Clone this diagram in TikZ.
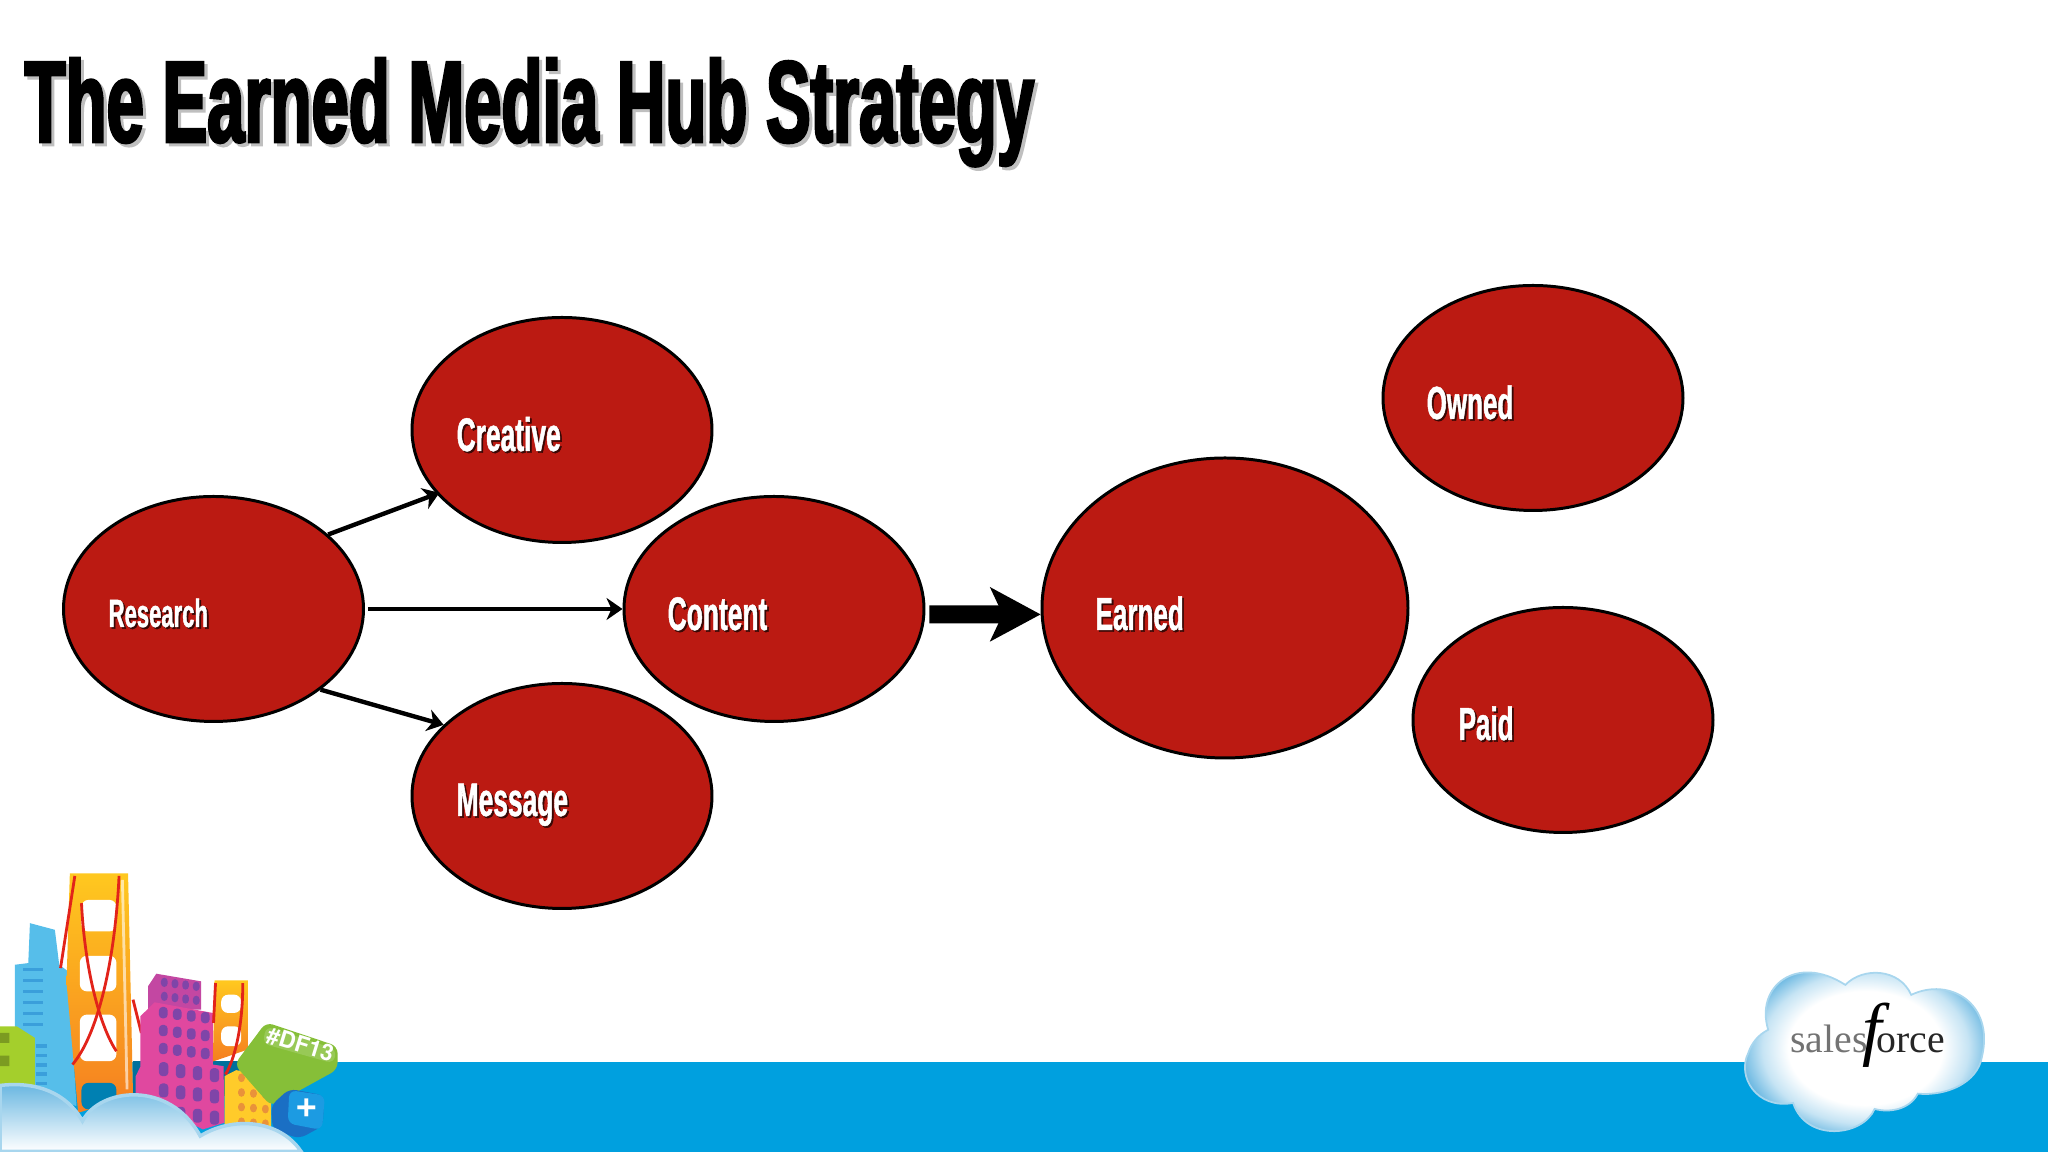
\documentclass[tikz,border=0pt]{standalone}
\usepackage{fontspec}
\usetikzlibrary{shapes.geometric,arrows.meta}
\setmainfont{Liberation Serif}
\newfontfamily\hubfont[UprightFont=* Bold,FakeStretch=0.578,FakeBold=2.2]{Liberation Sans}
\newfontfamily\labelfont[UprightFont=* Bold,FakeStretch=0.56,FakeBold=1]{Liberation Sans}
\newfontfamily\tagfont{TeX Gyre Heros}
\definecolor{hubred}{HTML}{BB1A12}
\definecolor{bandblue}{HTML}{00A0DF}
\definecolor{rimblue}{HTML}{A8D6EE}
\definecolor{cloudblue}{HTML}{5FB2DF}
\definecolor{cloudmid}{HTML}{C6E4F4}
\definecolor{skyblue}{HTML}{56BEEA}
\definecolor{winblue}{HTML}{3A9FDB}
\definecolor{limegreen}{HTML}{A4CF2C}
\definecolor{bridgetop}{HTML}{FFC81F}
\definecolor{bridgelow}{HTML}{F57E20}
\definecolor{cablered}{HTML}{E2231A}
\definecolor{pinkwall}{HTML}{E0489F}
\definecolor{pinkwin}{HTML}{7F45A8}
\definecolor{winyellow}{HTML}{FFCB2A}
\definecolor{winorange}{HTML}{E9923A}
\definecolor{taggreen}{HTML}{86BF38}
\definecolor{cubeblue}{HTML}{1A6FC4}
\definecolor{cubeface}{HTML}{1C9BE2}
\pgfdeclareradialshading{cloudglow}{\pgfpoint{0bp}{0bp}}{color(0bp)=(white); color(15bp)=(white); color(20bp)=(cloudmid); color(25bp)=(cloudblue); color(50bp)=(cloudblue)}
\newcommand{\hubshadow}[3]{\leavevmode\rlap{\raisebox{-#2}[0pt][0pt]{\kern#2\textcolor{#3}{#1}}}#1}
\tikzset{
  hubnode/.style={draw=black, line width=0.85pt, fill=hubred, ellipse, inner sep=0pt, minimum width=3.00cm, minimum height=2.25cm},
  hublabel/.style={anchor=base west, inner sep=0pt, text=white},
  hubarrow/.style={line width=1.25pt, -{Stealth[length=0.16cm,width=0.22cm,inset=0.05cm]}},
  bigarrow/.style={line width=0.18cm, -{Stealth[length=0.5cm,width=0.53cm,inset=0.12cm]}},
  art/.style={x=0.00333cm, y=-0.00333cm}
}
\begin{document}
\begin{tikzpicture}
\useasboundingbox (0,0) rectangle (20.48,11.52);
% Footer band
\fill[bandblue] (0,0) rectangle (20.48,0.90);
% Title
\node[anchor=base west, inner sep=0pt, font=\hubfont\fontsize{33}{36}\selectfont] (title) at (0.24,10.10) {\hubshadow{The Earned Media Hub Strategy}{0.9pt}{black!25}};
% Ellipses
\node[hubnode] (research) at (2.135,5.43) {};
\node[hubnode] (creative) at (5.62,7.22) {};
\node[hubnode] (content) at (7.74,5.43) {};
\node[hubnode] (message) at (5.62,3.56) {};
\node[hubnode, minimum width=3.66cm, minimum height=3.00cm] (earned) at (12.25,5.44) {};
\node[hubnode] (owned) at (15.33,7.54) {};
\node[hubnode] (paid) at (15.63,4.32) {};
% Labels
\node[hublabel, font=\labelfont\fontsize{11.2}{13}\selectfont] (researchtext) at (1.08,5.25) {\hubshadow{Research}{0.5pt}{black!70!hubred}};
\node[hublabel, font=\labelfont\fontsize{13.4}{15}\selectfont] (creativetext) at (4.56,7.01) {\hubshadow{Creative}{0.5pt}{black!70!hubred}};
\node[hublabel, font=\labelfont\fontsize{13.4}{15}\selectfont] (contenttext) at (6.67,5.22) {\hubshadow{Content}{0.5pt}{black!70!hubred}};
\node[hublabel, font=\labelfont\fontsize{13.4}{15}\selectfont] (messagetext) at (4.56,3.36) {\hubshadow{Message}{0.5pt}{black!70!hubred}};
\node[hublabel, font=\labelfont\fontsize{13.2}{15}\selectfont] (earnedtext) at (10.95,5.22) {\hubshadow{Earned}{0.5pt}{black!70!hubred}};
\node[hublabel, font=\labelfont\fontsize{13.2}{15}\selectfont] (ownedtext) at (14.26,7.33) {\hubshadow{Owned}{0.5pt}{black!70!hubred}};
\node[hublabel, font=\labelfont\fontsize{13.2}{15}\selectfont] (paidtext) at (14.58,4.12) {\hubshadow{Paid}{0.5pt}{black!70!hubred}};
% Arrows
\draw[hubarrow, shorten >=-0.03cm] (research.33) -- (creative.207);
\draw[hubarrow] (research.-37) -- (message.149);
\draw[hubarrow, shorten <=0.03cm] (research.east) -- (content.west);
\draw[bigarrow, shorten <=0.04cm] (content.-2.4) -- (earned.182);
% Salesforce logo
\begin{scope}[shift={(17.00,2.12)}, art]
\shade[shading=cloudglow, draw=rimblue, line width=0.5pt] (205,270) .. controls (165,140) and (290,40) .. (437,135) .. controls (490,80) and (600,85) .. (635,165) .. controls (750,110) and (885,190) .. (848,350) .. controls (835,430) and (740,470) .. (655,462) .. controls (630,510) and (570,520) .. (525,508) .. controls (490,590) and (320,610) .. (280,490) .. controls (170,510) and (110,410) .. (145,340) .. controls (155,310) and (175,285) .. (205,270) -- cycle;
\node[anchor=base west, inner sep=0pt, font=\fontsize{11.3}{12}\selectfont] (logotext) at (270,338) {\textcolor{black!55}{sales}{\itshape\fontsize{20}{21}\selectfont\kern-1.5pt f\kern-1.5pt}\textcolor{black!85}{orce}};
\end{scope}
% City art
\begin{scope}[shift={(0,3.02)}, art]
\fill[bandblue!70!black] (400,635) rectangle (720,740);
% Tower
\fill[skyblue] (90,220) -- (165,240) -- (178,345) -- (205,365) -- (230,770) -- (100,730) -- (45,530) -- (45,345) -- (85,340) -- cycle;
\foreach \r in {0,...,5} \draw[winblue, line width=1pt] (70,{360+33*\r}) -- (130,{360+33*\r});
\foreach \r in {0,...,4} \draw[winblue, line width=1pt] (108,{590+28*\r}) -- (140,{590+28*\r});
% Green block
\fill[limegreen] (0,530) -- (50,530) -- (105,565) -- (105,710) -- (0,710) -- cycle;
\fill[limegreen!75!black] (0,550) rectangle (28,580) (0,618) rectangle (28,650);
% Golden Gate tower
\shade[top color=bridgetop, bottom color=bridgelow] (210,70) -- (385,70) -- (400,740) -- (235,790) -- (200,400) -- cycle;
\draw[white, opacity=0.6, line width=0.8pt] (368,90) -- (382,720);
\fill[white, rounded corners=2pt] (245,150) rectangle (350,245) (240,318) rectangle (350,425) (240,495) rectangle (350,635);
\fill[bandblue!80!black, rounded corners=2pt] (245,700) rectangle (350,780);
\draw[cablered, line width=0.8pt] (225,78) -- (182,355);
\draw[cablered, line width=0.8pt] (358,78) .. controls (345,350) and (290,560) .. (218,645);
\draw[cablered, line width=0.8pt] (245,160) .. controls (255,360) and (300,530) .. (350,605);
\draw[cablered, line width=0.8pt] (400,450) -- (425,550);
% Pink blocks
\fill[pinkwall!70!pinkwin] (445,410) -- (470,372) -- (605,395) -- (605,480) -- (445,480) -- cycle;
\foreach \c in {0,...,3} \foreach \r in {0,1}
  \fill[pinkwin, rounded corners=1pt] ({484+32*\c},{384+42*\r+4*\c}) rectangle +(20,28);
\fill[pinkwall] (422,500) -- (465,458) -- (640,490) -- (640,650) -- (422,650) -- cycle;
\foreach \c in {0,...,3} \foreach \r in {0,1,2}
  \fill[pinkwin, rounded corners=1pt] ({478+42*\c},{472+54*\r+5*\c}) rectangle +(26,34);
% Small bridge
\shade[top color=bridgetop, bottom color=bridgelow] (645,392) -- (745,392) -- (745,600) -- (640,636) -- cycle;
\fill[white, rounded corners=2pt] (665,435) rectangle (725,490) (665,530) rectangle (725,590);
\draw[cablered, line width=0.8pt] (648,400) -- (642,520);
\draw[cablered, line width=0.8pt] (730,400) .. controls (730,520) and (710,620) .. (678,675);
% Front pink block
\fill[pinkwall] (408,680) -- (440,615) -- (672,650) -- (675,820) -- (610,840) -- (408,740) -- cycle;
\foreach \c in {0,...,3} \foreach \r in {0,1,2}
  \fill[pinkwin, rounded corners=1pt] ({478+51*\c},{638+64*\r+6*\c}) rectangle +(28,42);
% Yellow block
\fill[winyellow] (675,680) -- (710,662) -- (815,680) -- (815,838) -- (675,825) -- cycle;
\foreach \c in {0,1,2} \foreach \r in {0,...,3}
  \fill[winorange, rounded corners=1pt] ({716+36*\c},{672+44*\r+3*\c}) rectangle +(20,26);
% Green tag
\fill[taggreen, rounded corners=2pt] (800,518) -- (1015,590) -- (1015,660) -- (815,770) -- (705,645) -- cycle;
\fill[taggreen!85!white, rounded corners=2pt] (800,530) -- (1012,600) -- (1003,642) -- (790,582) -- cycle;
\node[rotate=-17, inner sep=0pt, text=white, font=\tagfont\bfseries\fontsize{6.5}{7}\selectfont] (tagtext) at (903,585) {\#DF13};
% Blue cube
\fill[cubeblue, rounded corners=2pt] (815,768) -- (870,718) -- (975,738) -- (970,830) -- (900,868) -- (820,840) -- cycle;
\fill[cubeface, rounded corners=2pt] (870,722) -- (977,738) -- (968,842) -- (865,822) -- cycle;
\node[inner sep=0pt, text=white, font=\tagfont\bfseries\fontsize{11}{12}\selectfont] (plustext) at (922,775) {+};
% Cloud
\shade[top color=cloudblue, bottom color=white, draw=rimblue, line width=1pt] (0,708) .. controls (110,695) and (200,730) .. (248,815) .. controls (300,715) and (510,690) .. (602,860) .. controls (700,800) and (840,810) .. (905,906) -- (0,906) -- cycle;
\end{scope}
\end{tikzpicture}
\end{document}
